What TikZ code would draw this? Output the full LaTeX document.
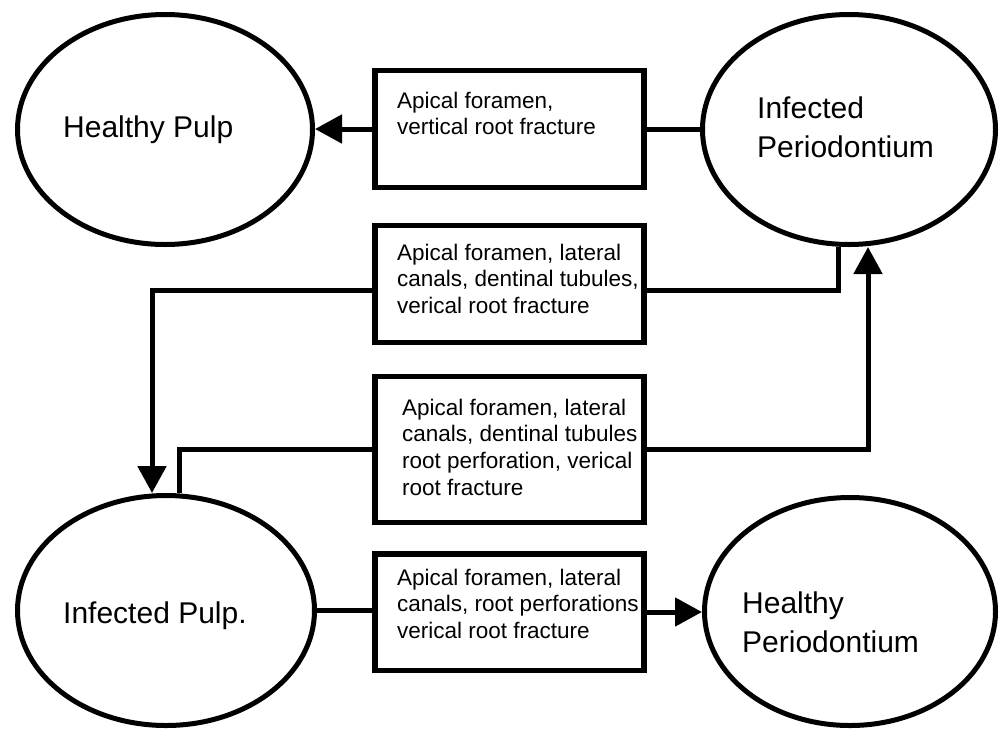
\documentclass[tikz,border=0pt]{standalone}
\usepackage{fontspec}
\setmainfont{Liberation Sans}
\usetikzlibrary{shapes.geometric,arrows.meta,calc}
\begin{document}
\begin{tikzpicture}[x=1pt,y=-1pt,
  oval/.style={ellipse,draw,line width=5pt,inner sep=0pt,fill=white},
  box/.style={rectangle,draw,line width=5.5pt,inner sep=0pt,minimum width=269pt},
  boxtext/.style={anchor=north west,inner sep=0pt,align=left,font=\fontsize{22.5}{26.7}\selectfont},
  ovaltext/.style={inner sep=0pt,align=left,font=\fontsize{30}{39.5}\selectfont},
  conn/.style={line width=5pt},
  arr/.style={conn,-{Triangle[length=27pt,width=28pt]}}]
\useasboundingbox[fill=white] (0,0) rectangle (1000,731);
% boxes
\node[box,minimum height=117pt] (b1) at (509.5,129) {};
\node[box,minimum height=117pt] (b2) at (509.5,284) {};
\node[box,minimum height=146pt] (b3) at (509.5,449.5) {};
\node[box,minimum height=116.5pt] (b4) at (509.5,612) {};
% ellipses
\node[oval,minimum width=295pt,minimum height=230pt] (hp) at (165,129.5) {};
\node[oval,minimum width=293pt,minimum height=230pt] (ip) at (849,129.5) {};
\node[oval,minimum width=297pt,minimum height=230pt] (ipu) at (166,610.5) {};
\node[oval,minimum width=291pt,minimum height=228pt] (hper) at (850,611.5) {};
% connectors
\draw[arr] (b1.west) -- (b1.west -| hp.east);
\draw[conn] (b1.east) -- (b1.east -| ip.west);
\draw[conn] ([xshift=-11pt]ip.south) |- ([yshift=-6pt]b2.east);
\draw[arr] ([yshift=-6pt]b2.west) -| ([xshift=-14pt]ipu.north);
\draw[conn] ([xshift=13pt]ipu.north) |- (b3.west);
\draw[arr] (b3.east) -| ([xshift=19pt]ip.south);
\draw[conn] (ipu.east) -- (ipu.east -| b4.west);
\draw[arr] (b4.east) -- (b4.east -| hper.west);
% ellipse labels
\node[ovaltext,anchor=base west] (hpl) at (63,137) {Healthy Pulp};
\node[ovaltext,anchor=north west] (ipl) at (757,96.2) {Infected\\Periodontium};
\node[ovaltext,anchor=base west] (ipul) at (63,623) {Infected Pulp.};
\node[ovaltext,anchor=north west] (hperl) at (742,591.5) {Healthy\\Periodontium};
% box labels
\node[boxtext] (b1t) at (397,91.6) {Apical foramen,\\vertical root fracture};
\node[boxtext] (b2t) at (397,243.6) {Apical foramen, lateral\\canals, dentinal tubules,\\verical root fracture};
\node[boxtext] (b3t) at (402,398.6) {Apical foramen, lateral\\canals, dentinal tubules\\root perforation, verical\\root fracture};
\node[boxtext] (b4t) at (397,568.6) {Apical foramen, lateral\\canals, root perforations\\verical root fracture};
\end{tikzpicture}
\end{document}
